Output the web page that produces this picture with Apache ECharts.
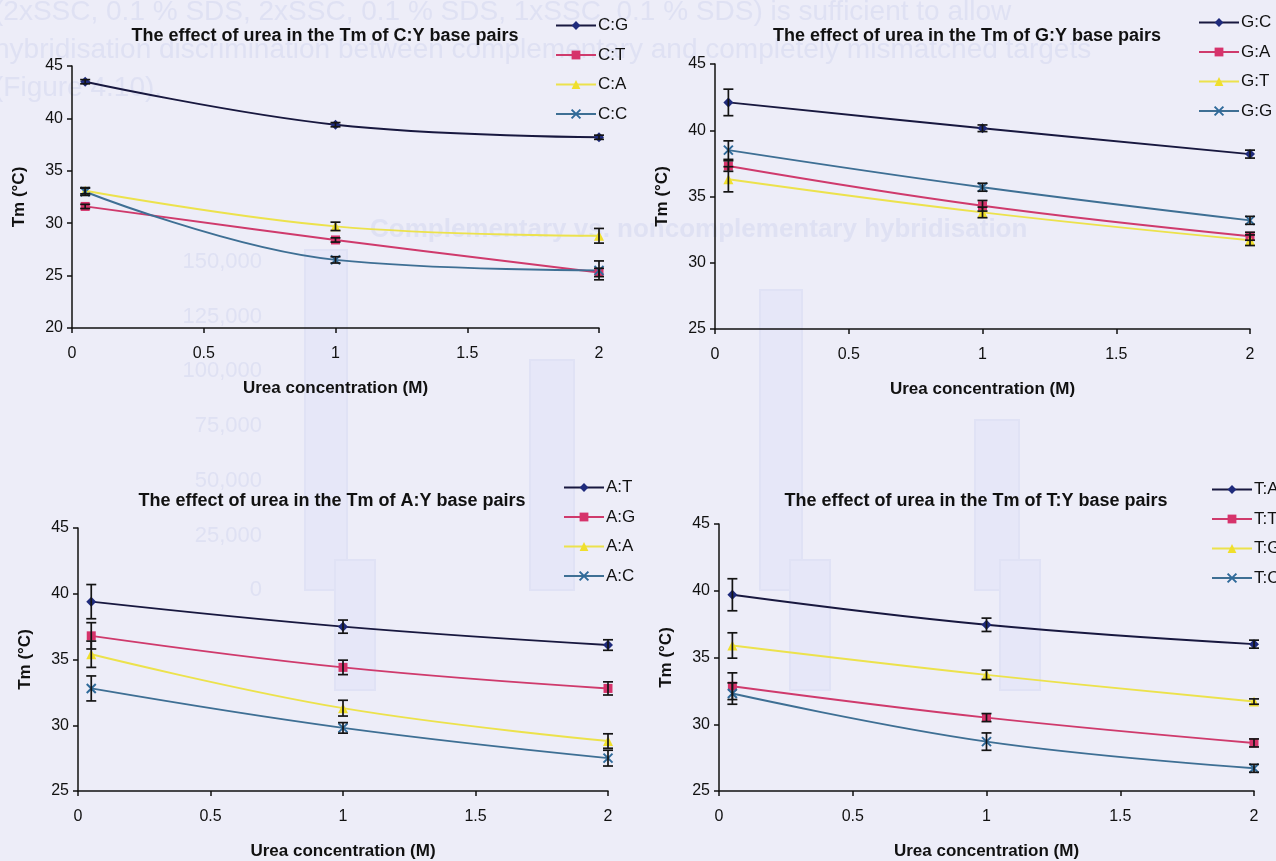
<!DOCTYPE html>
<html>
<head>
<meta charset="utf-8">
<title>Effect of urea on Tm of base pairs</title>
<script src="https://cdn.jsdelivr.net/npm/echarts@6/dist/echarts.min.js"></script>
<style>
  html, body { margin: 0; padding: 0; background: #ededf8; }
  #chart { width: 1276px; height: 861px; }
</style>
</head>
<body>
<div id="chart"></div>
<script>
// Urea concentrations (M) at which Tm was measured
const ureaM = [0.05, 1, 2];

// Tick labels shared by every panel
const xTicks = [0, 0.5, 1, 1.5, 2];

// C:Y base pairs — Tm (°C) and error
const tmCG = [43.5, 39.4, 38.2];  const errCG = [0.2, 0.2, 0.2];
const tmCT = [31.6, 28.4, 25.3];  const errCT = [0.2, 0.2, 0.4];
const tmCA = [33.1, 29.7, 28.8];  const errCA = [0.3, 0.4, 0.7];
const tmCC = [33.0, 26.5, 25.5];  const errCC = [0.35, 0.3, 0.9];

// G:Y base pairs
const tmGC = [42.1, 40.15, 38.2]; const errGC = [1.0, 0.25, 0.3];
const tmGA = [37.3, 34.3, 32.0];  const errGA = [0.4, 0.4, 0.3];
const tmGT = [36.3, 33.8, 31.7];  const errGT = [0.95, 0.4, 0.4];
const tmGG = [38.5, 35.7, 33.2];  const errGG = [0.7, 0.3, 0.3];

// A:Y base pairs
const tmAT = [39.4, 37.5, 36.1];  const errAT = [1.3, 0.5, 0.4];
const tmAG = [36.8, 34.4, 32.8];  const errAG = [1.0, 0.55, 0.5];
const tmAA = [35.4, 31.3, 28.8];  const errAA = [1.0, 0.6, 0.55];
const tmAC = [32.8, 29.8, 27.5];  const errAC = [0.95, 0.4, 0.6];

// T:Y base pairs
const tmTA = [39.7, 37.45, 36.0]; const errTA = [1.2, 0.5, 0.3];
const tmTT = [32.85, 30.5, 28.6]; const errTT = [1.0, 0.3, 0.3];
const tmTG = [35.9, 33.7, 31.7];  const errTG = [0.95, 0.35, 0.2];
const tmTC = [32.3, 28.7, 26.7];  const errTC = [0.8, 0.65, 0.3];

// Faint text of the underlying page
const pageLines = [
  '(2xSSC, 0.1 % SDS, 2xSSC, 0.1 % SDS, 1xSSC, 0.1 % SDS) is sufficient to allow',
  'hybridisation discrimination between complementary and completely mismatched targets',
  '(Figure 4.10).'
];
const pageHeading = 'Complementary vs. noncomplementary hybridisation';
const pageTicks = ['150,000', '125,000', '100,000', '75,000', '50,000', '25,000', '0'];

const FONT = '"Liberation Sans", Arial, Helvetica, sans-serif';

// Marker / line look for the four series slots of every panel
const looks = [
  { line: '#18183f', mark: '#1f2b7c', symbol: 'diamond', size: 10 },
  { line: '#cf3a6c', mark: '#d6336b', symbol: 'rect', size: 9 },
  { line: '#ece24c', mark: '#f0df2c', symbol: 'triangle', size: 10 },
  { line: '#3e6f94', mark: '#2f6a9a', symbol: 'path://M0,0L10,10M10,0L0,10', size: 9 }
];

// Panel layouts (grid in pixels) and their content
const panels = [
  {
    title: 'The effect of urea in the Tm of C:Y base pairs', titleX: 320, titleY: 22,
    grid: { left: 72, top: 66, width: 527, height: 262 }, yMin: 20, yMax: 45,
    legend: { left: 550, top: 12 },
    names: ['C:G', 'C:T', 'C:A', 'C:C'],
    tm: [tmCG, tmCT, tmCA, tmCC], err: [errCG, errCT, errCA, errCC]
  },
  {
    title: 'The effect of urea in the Tm of G:Y base pairs', titleX: 962, titleY: 22,
    grid: { left: 715, top: 64, width: 535, height: 265 }, yMin: 25, yMax: 45,
    legend: { left: 1193, top: 9 },
    names: ['G:C', 'G:A', 'G:T', 'G:G'],
    tm: [tmGC, tmGA, tmGT, tmGG], err: [errGC, errGA, errGT, errGG]
  },
  {
    title: 'The effect of urea in the Tm of A:Y base pairs', titleX: 327, titleY: 487,
    grid: { left: 78, top: 528, width: 530, height: 267 }, yMin: 25, yMax: 45,
    legend: { left: 558, top: 474 },
    names: ['A:T', 'A:G', 'A:A', 'A:C'],
    tm: [tmAT, tmAG, tmAA, tmAC], err: [errAT, errAG, errAA, errAC]
  },
  {
    title: 'The effect of urea in the Tm of T:Y base pairs', titleX: 971, titleY: 487,
    grid: { left: 719, top: 524, width: 535, height: 269 }, yMin: 25, yMax: 45,
    legend: { left: 1206, top: 476 },
    names: ['T:A', 'T:T', 'T:G', 'T:C'],
    tm: [tmTA, tmTT, tmTG, tmTC], err: [errTA, errTT, errTG, errTC]
  }
];

// Vertical error bar with caps
function renderErrorBar(params, api) {
  const x = api.value(0);
  const top = api.coord([x, api.value(2)]);
  const bot = api.coord([x, api.value(1)]);
  const half = 5;
  const style = { stroke: '#141414', lineWidth: 1.7, fill: null };
  return {
    type: 'group',
    children: [
      { type: 'line', shape: { x1: top[0], y1: top[1], x2: bot[0], y2: bot[1] }, style },
      { type: 'line', shape: { x1: top[0] - half, y1: top[1], x2: top[0] + half, y2: top[1] }, style },
      { type: 'line', shape: { x1: bot[0] - half, y1: bot[1], x2: bot[0] + half, y2: bot[1] }, style }
    ]
  };
}

// Faded page underneath the charts
const ghostText = '#dfe1f3';
const ghostBar = '#e6e7f8';
const ghostEdge = '#e0e2f5';
const ghost = [];
[[305, 250, 42, 340], [530, 360, 44, 230], [760, 290, 42, 300], [975, 420, 44, 170],
 [335, 560, 40, 130], [790, 560, 40, 130], [1000, 560, 40, 130]].forEach(r => {
  ghost.push({ type: 'rect', z: -10, silent: true,
    shape: { x: r[0], y: r[1], width: r[2], height: r[3] },
    style: { fill: ghostBar, stroke: ghostEdge, lineWidth: 2 } });
});
pageLines.forEach((t, i) => {
  ghost.push({ type: 'text', z: -9, silent: true, x: -6, y: 12 + i * 38,
    style: { text: t, fill: ghostText, font: '28px ' + FONT, textVerticalAlign: 'middle' } });
});
ghost.push({ type: 'text', z: -9, silent: true, x: 370, y: 230,
  style: { text: pageHeading, fill: ghostText, font: 'bold 26px ' + FONT, textVerticalAlign: 'middle' } });
pageTicks.forEach((t, i) => {
  ghost.push({ type: 'text', z: -9, silent: true, x: 262, y: 262 + i * 54.7,
    style: { text: t, fill: ghostText, font: '22px ' + FONT, textAlign: 'right', textVerticalAlign: 'middle' } });
});

const axisLineStyle = { color: '#111', width: 1.5 };
const titleFont = { fontFamily: FONT, fontSize: 18, fontWeight: 'bold', color: '#111' };
const nameFont = { fontFamily: FONT, fontSize: 17, fontWeight: 'bold', color: '#111' };
const option = {
  backgroundColor: '#ededf8',
  animation: false,
  graphic: ghost,
  title: [], grid: [], xAxis: [], yAxis: [], legend: [], series: []
};

panels.forEach((p, pi) => {
  option.title.push({
    text: p.title, left: p.titleX, top: p.titleY, textAlign: 'center', textStyle: titleFont
  });
  option.grid.push(Object.assign({ containLabel: false }, p.grid));
  option.xAxis.push({
    gridIndex: pi, type: 'value', min: xTicks[0], max: xTicks[xTicks.length - 1], interval: 0.5,
    name: 'Urea concentration (M)', nameLocation: 'middle', nameGap: 52,
    nameTextStyle: nameFont,
    axisLine: { lineStyle: axisLineStyle },
    axisTick: { show: true, length: 5, lineStyle: axisLineStyle },
    axisLabel: { fontFamily: FONT, fontSize: 16, color: '#111', margin: 18 },
    splitLine: { show: false }
  });
  option.yAxis.push({
    gridIndex: pi, type: 'value', min: p.yMin, max: p.yMax, interval: 5,
    name: 'Tm (°C)', nameLocation: 'middle', nameGap: 44,
    nameTextStyle: nameFont,
    axisLine: { show: true, lineStyle: axisLineStyle },
    axisTick: { show: true, length: 5, lineStyle: axisLineStyle },
    axisLabel: { fontFamily: FONT, fontSize: 16, color: '#111', margin: 9 },
    splitLine: { show: false }
  });
  option.legend.push({
    orient: 'vertical', left: p.legend.left, top: p.legend.top,
    data: p.names, itemWidth: 40, itemHeight: 11, itemGap: 12.5,
    textStyle: { fontFamily: FONT, fontSize: 17, color: '#111', padding: [0, 0, 0, -3] },
    selectedMode: false
  });
  p.names.forEach((name, si) => {
    const lk = looks[si];
    const isCross = si === 3;
    option.series.push({
      name, type: 'line', xAxisIndex: pi, yAxisIndex: pi,
      data: ureaM.map((x, i) => [x, p.tm[si][i]]),
      smooth: 0.4,
      symbol: lk.symbol, symbolSize: lk.size,
      lineStyle: { color: lk.line, width: 1.9 },
      itemStyle: isCross
        ? { color: 'rgba(0,0,0,0)', borderColor: lk.mark, borderWidth: 2 }
        : { color: lk.mark, borderWidth: 0 },
      z: 2
    });
  });
  p.names.forEach((name, si) => {
    option.series.push({
      name: name + ' error', type: 'custom', xAxisIndex: pi, yAxisIndex: pi,
      renderItem: renderErrorBar,
      encode: { x: 0, y: [1, 2] },
      data: ureaM.map((x, i) => [x, p.tm[si][i] - p.err[si][i], p.tm[si][i] + p.err[si][i]]),
      z: 3, silent: true
    });
  });
});

const chart = echarts.init(document.getElementById('chart'), null, { renderer: 'canvas' });
chart.setOption(option);
</script>
</body>
</html>
